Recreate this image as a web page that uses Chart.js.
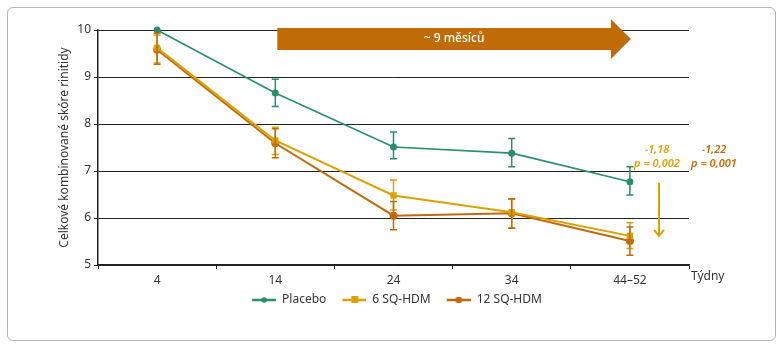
<!DOCTYPE html>
<html>
<head>
<meta charset="utf-8">
<script src="https://cdn.jsdelivr.net/npm/chart.js@4.4.0/dist/chart.umd.min.js"></script>
<style>
  html, body { margin: 0; padding: 0; background: #fff; }
  #wrap { position: relative; width: 783px; height: 351px; }
  #frame { position: absolute; left: 7px; top: 7px; width: 767px; height: 332px;
           border: 1px solid #b4b4b4; border-radius: 6px; pointer-events: none; }
</style>
</head>
<body>
<div id="wrap">
  <canvas id="chart" width="783" height="351"></canvas>
  <div id="frame"></div>
</div>
<script>
// categories (weeks)
const weeks = ['4', '14', '24', '34', '44–52'];

// mean scores
const placebo = [10.0, 8.66, 7.51, 7.38, 6.77];
const sq6 = [9.62, 7.65, 6.48, 6.12, 5.62];
const sq12 = [9.58, 7.59, 6.05, 6.10, 5.51];

// error bars [low, high]
const placeboErr = [null, [8.37, 8.95], [7.26, 7.83], [7.09, 7.69], [6.49, 7.09]];
const sq6Err = [[9.30, 9.89], [7.35, 7.93], [6.17, 6.81], [5.79, 6.40], [5.35, 5.90]];
const sq12Err = [[9.27, 9.93], [7.28, 7.90], [5.75, 6.35], [5.78, 6.41], [5.21, 5.81]];

const yTicks = [5, 6, 7, 8, 9, 10];

const green = '#2a8e6c';
const yellow = '#d9a200';
const orange = '#c06a0a';
const textColor = '#333';
const fontFamily = '"Noto Sans", "DejaVu Sans", sans-serif';

// legend swatch: line with marker (blank gap on the left to space the items)
const swatchGap = 11;
function makeSwatch(color, style) {
    const c = document.createElement('canvas');
    c.width = 24 + swatchGap; c.height = 10;
    const g = c.getContext('2d');
    g.translate(swatchGap, 0);
    g.strokeStyle = color;
    g.lineWidth = 2.5;
    g.beginPath();
    g.moveTo(0, 5); g.lineTo(24, 5);
    g.stroke();
    g.fillStyle = color;
    if (style === 'rect') {
        g.fillRect(9, 1, 7, 7);
    } else {
        g.beginPath();
        g.arc(12, 5, style === 'small' ? 2.8 : 3.3, 0, Math.PI * 2);
        g.fill();
    }
    return c;
}
const swatches = [makeSwatch(green, 'small'), makeSwatch(yellow, 'rect'), makeSwatch(orange, 'circle')];

// error bars
const errorBars = {
    id: 'errorBars',
    afterDatasetsDraw(chart) {
        const ctx = chart.ctx;
        const xs = chart.scales.x, ys = chart.scales.y;
        const sets = [[placeboErr, green], [sq6Err, yellow], [sq12Err, orange]];
        ctx.save();
        sets.forEach(([errs, color]) => {
            ctx.strokeStyle = color;
            ctx.lineWidth = 1.5;
            errs.forEach((e, i) => {
                if (!e) return;
                const x = xs.getPixelForValue(i);
                const y1 = ys.getPixelForValue(e[0]);
                const y2 = ys.getPixelForValue(e[1]);
                ctx.beginPath();
                ctx.moveTo(x, y1); ctx.lineTo(x, y2);
                ctx.moveTo(x - 3.5, y1); ctx.lineTo(x + 3.5, y1);
                ctx.moveTo(x - 3.5, y2); ctx.lineTo(x + 3.5, y2);
                ctx.stroke();
            });
        });
        ctx.restore();
    }
};

// arrow, annotations and axis label
const extras = {
    id: 'extras',
    beforeDatasetsDraw(chart) {
        const ctx = chart.ctx;
        const xs = chart.scales.x, ys = chart.scales.y;
        const x0 = xs.getPixelForValue(1) + 2;
        const x1 = xs.getPixelForValue(4) + 1;
        const headStart = x1 - 20;
        const top = ys.getPixelForValue(10) - 2;
        const bot = ys.getPixelForValue(10) + 20;
        const mid = (top + bot) / 2;
        ctx.save();
        ctx.fillStyle = '#bf6b06';
        ctx.beginPath();
        ctx.moveTo(x0, top);
        ctx.lineTo(headStart, top);
        ctx.lineTo(headStart, mid - 20);
        ctx.lineTo(x1, mid);
        ctx.lineTo(headStart, mid + 20);
        ctx.lineTo(headStart, bot);
        ctx.lineTo(x0, bot);
        ctx.closePath();
        ctx.fill();
        ctx.fillStyle = '#fff';
        ctx.font = '500 12px ' + fontFamily;
        ctx.textAlign = 'center';
        ctx.textBaseline = 'middle';
        ctx.fillText('~ 9 měsíců', (x0 + headStart) / 2 + 10, mid);
        ctx.restore();
    },
    afterDraw(chart) {
        const ctx = chart.ctx;
        const xs = chart.scales.x, ys = chart.scales.y;
        const right = chart.chartArea.right;
        ctx.save();
        ctx.textAlign = 'center';
        ctx.textBaseline = 'middle';
        ctx.font = 'italic 600 11px ' + fontFamily;
        ctx.fillStyle = yellow;
        ctx.fillText('\u22121,18', right - 32, ys.getPixelForValue(7.46));
        ctx.fillText('p = 0,002', right - 32, ys.getPixelForValue(7.16));
        ctx.fillStyle = orange;
        ctx.fillText('\u22121,22', right + 25, ys.getPixelForValue(7.46));
        ctx.fillText('p = 0,001', right + 25, ys.getPixelForValue(7.16));

        // down arrow
        const ax = right - 30;
        const ay1 = ys.getPixelForValue(6.75), ay2 = ys.getPixelForValue(5.62);
        ctx.strokeStyle = yellow;
        ctx.lineWidth = 2;
        ctx.beginPath();
        ctx.moveTo(ax, ay1); ctx.lineTo(ax, ay2);
        ctx.moveTo(ax - 5, ay2 - 6); ctx.lineTo(ax, ay2); ctx.lineTo(ax + 5, ay2 - 6);
        ctx.stroke();

        // x axis name
        ctx.fillStyle = textColor;
        ctx.font = '12px ' + fontFamily;
        ctx.textAlign = 'left';
        ctx.fillText('Týdny', right + 2, xs.top + 12);
        ctx.restore();
    }
};

function lineSet(label, data, color, style, radius, width) {
    return {
        label, data,
        borderColor: color,
        backgroundColor: color,
        borderWidth: width,
        pointStyle: style,
        pointRadius: radius,
        pointBorderWidth: 0,
        pointHoverRadius: radius,
        tension: 0,
        clip: false
    };
}

new Chart(document.getElementById('chart'), {
    type: 'line',
    data: {
        labels: weeks,
        datasets: [
            lineSet('Placebo', placebo, green, 'circle', 3.5, 1.6),
            lineSet('6 SQ-HDM', sq6, yellow, 'rect', 4.5, 2),
            lineSet('12 SQ-HDM', sq12, orange, 'circle', 4, 2)
        ]
    },
    options: {
        responsive: false,
        animation: false,
        layout: { padding: { left: 0, right: 0, top: 30, bottom: 35 } },
        plugins: {
            tooltip: { enabled: false },
            legend: {
                position: 'bottom',
                labels: {
                    usePointStyle: true,
                    pointStyleWidth: 24 + swatchGap,
                    padding: 5,
                    color: textColor,
                    font: { family: fontFamily, size: 12 },
                    generateLabels(chart) {
                        const items = Chart.defaults.plugins.legend.labels.generateLabels(chart);
                        items.forEach((it, i) => { it.pointStyle = swatches[i]; });
                        return items;
                    }
                }
            }
        },
        scales: {
            x: {
                offset: true,
                grid: { display: true, drawOnChartArea: false, offset: true, tickLength: 4, color: '#222' },
                border: { color: '#222', width: 1.5 },
                ticks: { color: textColor, font: { family: fontFamily, size: 12 }, padding: 4 },
                afterFit(scale) { scale.height = 24; }
            },
            y: {
                min: 5, max: 10,
                afterBuildTicks(scale) { scale.ticks = yTicks.map(v => ({ value: v })); },
                grid: { color: '#222', lineWidth: 1, tickLength: 4 },
                border: { color: '#222', width: 1.5 },
                ticks: { color: textColor, font: { family: fontFamily, size: 12 }, padding: 3 },
                title: {
                    display: true,
                    text: 'Celkové kombinované skóre rinitidy',
                    color: textColor,
                    font: { family: fontFamily, size: 12 },
                    padding: { top: 57, bottom: 0 }
                },
                afterFit(scale) { scale.width = 98; }
            },
            yRight: {
                position: 'right',
                display: true,
                grid: { display: false },
                border: { display: false },
                ticks: { display: false },
                afterFit(scale) { scale.width = 94; }
            }
        }
    },
    plugins: [errorBars, extras]
});
</script>
</body>
</html>
